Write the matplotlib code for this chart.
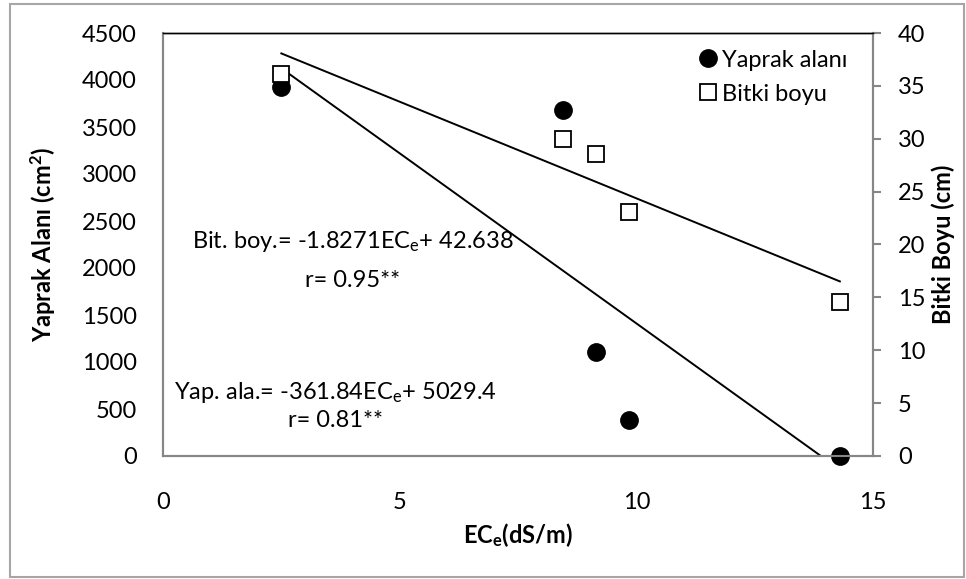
import numpy as np
import matplotlib
matplotlib.use('Agg')
import matplotlib.pyplot as plt
from matplotlib.patches import Rectangle

plt.rcParams['font.family'] = ['Lato', 'DejaVu Sans']
plt.rcParams['mathtext.default'] = 'regular'

# data
ece = [2.5, 8.45, 9.15, 9.85, 14.3]
yaprak_alani = [3925, 3685, 1105, 383, 0]
bitki_boyu = [36.1, 30.0, 28.6, 23.1, 14.6]

# trend line coefficients (as printed on the chart)
yap_slope, yap_icept = -361.84, 5029.4
bit_slope, bit_icept = -1.8271, 42.638

fig = plt.figure(figsize=(9.66, 5.79), dpi=100)
fig.patches.append(Rectangle((10/966, 1-577/579), 954/966, 573/579,
                             transform=fig.transFigure, fill=False,
                             edgecolor='#a6a6a6', linewidth=1.5))

ax = fig.add_axes([163/966, 1-456/579, 710/966, 423/579])
ax2 = ax.twinx()

grey = '#868686'
fs = 17

xs = np.array([ece[0], ece[-1]])
ax.plot(xs, yap_slope*xs + yap_icept, color='black', lw=1.4, zorder=2)
ax2.plot(xs, bit_slope*xs + bit_icept, color='black', lw=1.4, zorder=2)

ax.plot(ece, yaprak_alani, 'o', color='black', ms=12.5, zorder=3,
        clip_on=False, label='Yaprak alanı')
ax2.plot(ece, bitki_boyu, 's', mfc='white', mec='black', mew=1.3, ms=11.5,
         zorder=3, clip_on=False, label='Bitki boyu')

ax.set_xlim(0, 15)
ax.set_ylim(0, 4500)
ax2.set_ylim(0, 40)
ax.set_xticks([0, 5, 10, 15])
ax.set_yticks(np.arange(0, 4501, 500))
ax2.set_yticks(np.arange(0, 41, 5))

for a in (ax, ax2):
    for s in ('left', 'right', 'bottom'):
        a.spines[s].set_color(grey)
        a.spines[s].set_linewidth(1.5)
    a.spines['top'].set_color('black')
    a.spines['top'].set_linewidth(1.0)

ax.tick_params(axis='x', length=0, pad=26, labelsize=fs)
ax.tick_params(axis='y', length=0, pad=19, labelsize=fs)
ax2.tick_params(axis='y', length=6, width=1.5, color=grey, direction='out',
                pad=12, labelsize=fs)

ax.set_xlabel('EC$_{e}$(dS/m)', fontsize=fs, fontweight='bold', labelpad=6)
ax.set_ylabel('Yaprak Alanı (cm$^{2}$)', fontsize=fs, fontweight='bold')
ax.yaxis.set_label_coords(-0.148, 0.5)
ax2.set_ylabel('Bitki Boyu (cm)', fontsize=fs, fontweight='bold', labelpad=4)

ax.text(4.0, 2280, 'Bit. boy.= -1.8271EC$_{e}$+ 42.638', fontsize=fs,
        ha='center', va='center')
ax.text(4.0, 1870, 'r= 0.95**', fontsize=fs, ha='center', va='center')
ax.text(3.65, 680, 'Yap. ala.= -361.84EC$_{e}$+ 5029.4', fontsize=fs,
        ha='center', va='center')
ax.text(3.65, 380, 'r= 0.81**', fontsize=fs, ha='center', va='center')

h1, l1 = ax.get_legend_handles_labels()
h2, l2 = ax2.get_legend_handles_labels()
leg = ax2.legend(h1 + h2, l1 + l2, loc='upper right', frameon=False,
                 fontsize=fs, handletextpad=0.0, handlelength=1.2,
                 borderaxespad=0.3, labelspacing=0.55,
                 bbox_to_anchor=(0.987, 1.0))

fig.savefig('out.png', dpi=100)
